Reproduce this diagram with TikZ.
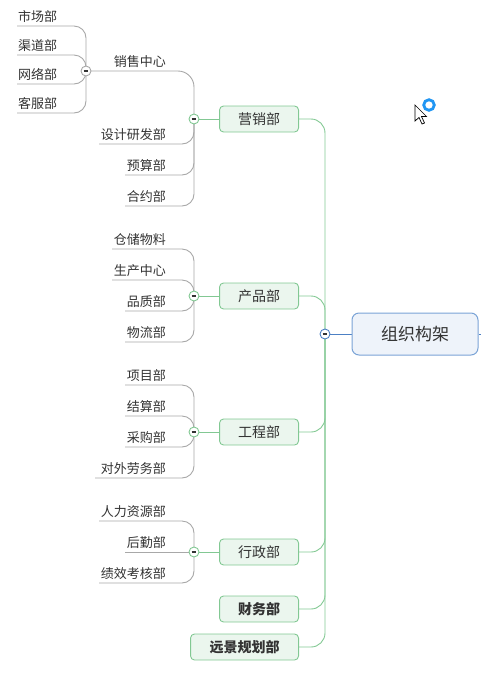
\documentclass[tikz,border=0pt]{standalone}
\usepackage{fontspec}
\setmainfont{Noto Sans CJK SC}
\definecolor{txt}{HTML}{333333}
\definecolor{gborder}{HTML}{82C893}
\definecolor{gfill}{HTML}{EBF6EE}
\definecolor{glinec}{HTML}{82C893}
\definecolor{sgray}{HTML}{A8A8A8}
\definecolor{bborder}{HTML}{7AA3D6}
\definecolor{bfill}{HTML}{EEF3FA}
\definecolor{blinec}{HTML}{4C80C4}
\definecolor{ringblue}{HTML}{2196F3}
\pgfdeclarelayer{bg}
\pgfsetlayers{bg,main}
\begin{document}
\begin{tikzpicture}[x=1pt,y=-1pt,
  leaf/.style={font=\fontsize{13}{13}\selectfont, text=txt, inner sep=0pt, anchor=base east},
  leafl/.style={font=\fontsize{13}{13}\selectfont, text=txt, inner sep=0pt, anchor=base west},
  dept/.style={draw=gborder, fill=gfill, rounded corners=4pt, minimum width=79pt, minimum height=26pt,
    font=\fontsize{14}{14}\selectfont, text=txt, inner sep=0pt, line width=0.9pt, anchor=east},
  rootbox/.style={draw=bborder, fill=bfill, rounded corners=7pt, minimum width=126pt, minimum height=42pt,
    font=\fontsize{17}{17}\selectfont, text=txt, inner sep=0pt, line width=1pt},
  toggle/.style={circle, fill=white, minimum size=10pt, inner sep=0pt, line width=0.9pt,
    path picture={\draw[txt, line width=1.1pt] ([xshift=-2.3pt]path picture bounding box.center) -- ([xshift=2.3pt]path picture bounding box.center);}},
  gline/.style={draw=glinec, line width=0.9pt, rounded corners=14pt},
  sline/.style={draw=sgray, line width=0.9pt, rounded corners=12pt},
  bline/.style={draw=blinec, line width=1pt}]
\useasboundingbox (0,0) rectangle (480,686);

% root
\node[rootbox] (root) at (415,334) {组织构架};
\node[toggle, draw=blinec] (rt) at (325,334) {};
\coordinate (rstub) at (481,334);

% departments
\node[dept] (yx) at (299,119) {营销部};
\node[dept] (cp) at (299,296) {产品部};
\node[dept] (gc) at (299,432) {工程部};
\node[dept] (xz) at (299,552) {行政部};
\node[dept, font=\fontsize{14}{14}\selectfont\bfseries] (cw) at (299,609) {财务部};
\node[dept, minimum width=108pt, font=\fontsize{14}{14}\selectfont\bfseries] (yj) at (299,647) {远景规划部};

\node[toggle, draw=glinec] (yxt) at (194,119) {};
\node[toggle, draw=glinec] (cpt) at (194,296) {};
\node[toggle, draw=glinec] (gct) at (194,432) {};
\node[toggle, draw=glinec] (xzt) at (194,552) {};
\node[toggle, draw=sgray] (sct) at (86,71) {};

% leaf end points
\coordinate (sj) at (99,144);
\coordinate (ys) at (125,175);
\coordinate (hy) at (125,206);
\coordinate (sc1) at (17,26);
\coordinate (sc2) at (17,55);
\coordinate (sc3) at (17,84);
\coordinate (sc4) at (17,113);
\coordinate (cp1) at (112,249);
\coordinate (cp2) at (112,280);
\coordinate (cp3) at (125,311);
\coordinate (cp4) at (125,342);
\coordinate (gc1) at (125,385);
\coordinate (gc2) at (125,416);
\coordinate (gc3) at (125,447);
\coordinate (gc4) at (95,478);
\coordinate (xz1) at (99,521);
\coordinate (xz2) at (125,552);
\coordinate (xz3) at (99,583);

% labels
\node[leaf] (l0) at (166,66) {销售中心};
\node[leaf] (l1) at (166,139) {设计研发部};
\node[leaf] (l2) at (166,170) {预算部};
\node[leaf] (l3) at (166,201) {合约部};
\node[leafl] (m1) at (18,21) {市场部};
\node[leafl] (m2) at (18,50) {渠道部};
\node[leafl] (m3) at (18,79) {网络部};
\node[leafl] (m4) at (18,108) {客服部};
\node[leaf] (p1) at (166,244) {仓储物料};
\node[leaf] (p2) at (166,275) {生产中心};
\node[leaf] (p3) at (166,306) {品质部};
\node[leaf] (p4) at (166,337) {物流部};
\node[leaf] (g1) at (166,380) {项目部};
\node[leaf] (g2) at (166,411) {结算部};
\node[leaf] (g3) at (166,442) {采购部};
\node[leaf] (g4) at (166,473) {对外劳务部};
\node[leaf] (x1) at (166,516) {人力资源部};
\node[leaf] (x2) at (166,547) {后勤部};
\node[leaf] (x3) at (166,578) {绩效考核部};

\begin{pgfonlayer}{bg}
  \draw[bline] (rt.center) -- (root.west);
  \draw[bline] (root.east) -- (rstub);
  \draw[gline] (rt.center) |- (yx.east);
  \draw[gline] (rt.center) |- (cp.east);
  \draw[gline] (rt.center) |- (gc.east);
  \draw[gline] (rt.center) |- (xz.east);
  \draw[gline] (rt.center) |- (cw.east);
  \draw[gline] (rt.center) |- (yj.east);
  \draw[gline] (yxt.center) -- (yx.west);
  \draw[gline] (cpt.center) -- (cp.west);
  \draw[gline] (gct.center) -- (gc.west);
  \draw[gline] (xzt.center) -- (xz.west);
  \draw[sline, rounded corners=16pt] (yxt.center) |- (sct.center);
  \draw[sline] (yxt.center) |- (sj);
  \draw[sline] (yxt.center) |- (ys);
  \draw[sline] (yxt.center) |- (hy);
  \draw[sline] (sct.center) |- (sc1);
  \draw[sline] (sct.center) |- (sc2);
  \draw[sline] (sct.center) |- (sc3);
  \draw[sline] (sct.center) |- (sc4);
  \draw[sline] (cpt.center) |- (cp1);
  \draw[sline] (cpt.center) |- (cp2);
  \draw[sline] (cpt.center) |- (cp3);
  \draw[sline] (cpt.center) |- (cp4);
  \draw[sline] (gct.center) |- (gc1);
  \draw[sline] (gct.center) |- (gc2);
  \draw[sline] (gct.center) |- (gc3);
  \draw[sline] (gct.center) |- (gc4);
  \draw[sline] (xzt.center) |- (xz1);
  \draw[sline] (xzt.center) -- (xz2);
  \draw[sline] (xzt.center) |- (xz3);
\end{pgfonlayer}

% busy ring and cursor
\draw[ringblue, line width=2.8pt] (429,105) circle (5.3pt);
\draw[fill=white, line width=0.7pt, line join=miter] (415,105) -- (415,121) -- (419,117.5) -- (422,124) -- (424.5,123) -- (421.5,116.5) -- (426.5,116.5) -- cycle;
\end{tikzpicture}
\end{document}
